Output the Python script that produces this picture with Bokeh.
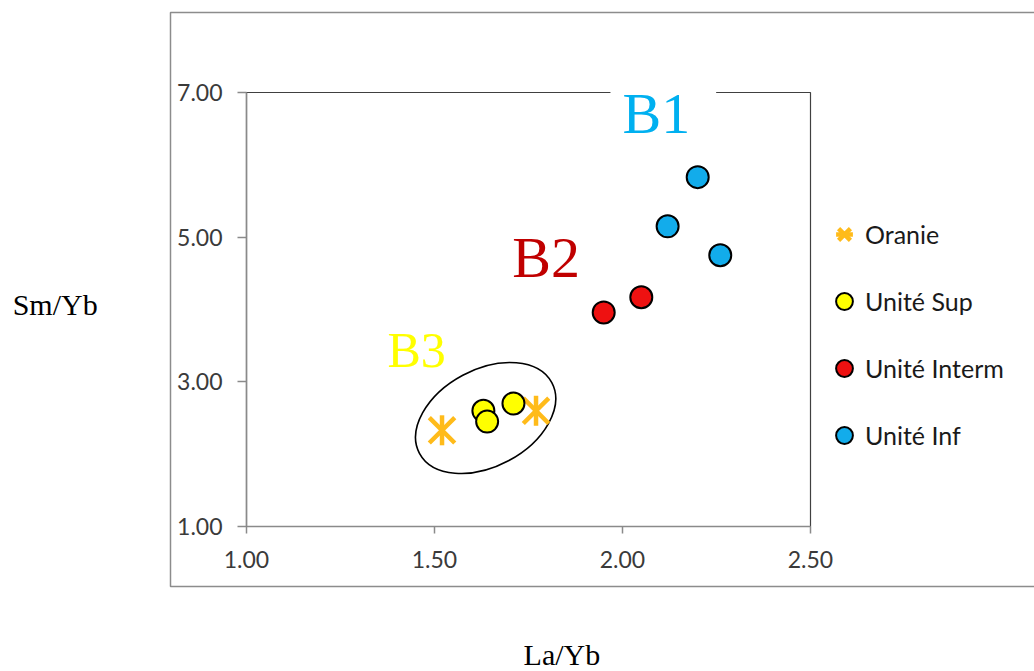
import math
from bokeh.plotting import figure
from bokeh.models import (Range1d, FixedTicker, NumeralTickFormatter, Legend, LegendItem, Label)
from bokeh.embed import file_html
from bokeh.resources import INLINE

# ---- data ----
oranie_x = [1.52, 1.77]
oranie_y = [2.33, 2.60]
sup_x = [1.63, 1.64, 1.71]
sup_y = [2.60, 2.45, 2.70]
interm_x = [1.95, 2.05]
interm_y = [3.96, 4.17]
inf_x = [2.12, 2.20, 2.26]
inf_y = [5.15, 5.83, 4.75]

x_ticks = [1.0, 1.5, 2.0, 2.5]
y_ticks = [1.0, 3.0, 5.0, 7.0]
series_names = ["Oranie", "Unité Sup", "Unité Interm", "Unité Inf"]
group_labels = ["B1", "B2", "B3"]
x_title = "La/Yb"
y_title = "Sm/Yb"

TICK_FONT = "Lato"
SERIF = "Liberation Serif"

# axis window 1.0..2.5 x 1.0..7.0, the whole canvas is the frame
W, H = 1034, 671
X0, X1, PX0, PX1 = 1.0, 2.5, 246, 810
Y0, Y1, PY0, PY1 = 1.0, 7.0, 526, 92
sx = (X1 - X0) / (PX1 - PX0)
sy = (Y1 - Y0) / (PY0 - PY1)

p = figure(width=W, height=H, output_backend="svg", toolbar_location=None,
           x_range=Range1d(X0 - PX0 * sx, X1 + (W - PX1) * sx),
           y_range=Range1d(Y0 - (H - PY0) * sy, Y1 + PY1 * sy),
           min_border=0)
p.background_fill_color = "white"
p.border_fill_color = "white"
p.grid.visible = False
p.outline_line_color = None

# outer chart-area border and plot-area border
p.quad(left=[X0 - 76 * sx], right=[X1 + 400 * sx], bottom=[Y0 - 60 * sy], top=[Y1 + 80 * sy],
       fill_color=None, line_color="#8c8c8c", line_width=1.5, level="underlay")
p.quad(left=[X0], right=[X1], bottom=[Y0], top=[Y1],
       fill_color=None, line_color="#404040", line_width=1.2, level="underlay")

for ax, ticks in ((p.xaxis, x_ticks), (p.yaxis, y_ticks)):
    ax.ticker = FixedTicker(ticks=ticks)
    ax.formatter = NumeralTickFormatter(format="0.00")
    ax.fixed_location = 1.0
    ax.axis_line_color = "#8a8a8a"
    ax.axis_line_width = 1.5
    ax.major_tick_line_color = "#8a8a8a"
    ax.major_tick_line_width = 1.5
    ax.major_tick_in = 0
    ax.minor_tick_line_color = None
    ax.major_label_text_font = TICK_FONT
    ax.major_label_text_font_size = "23px"
    ax.major_label_text_color = "#3a3a3a"
p.xaxis.bounds = (X0, X1)
p.yaxis.bounds = (Y0, Y1)
p.xaxis.major_tick_out = 7
p.yaxis.major_tick_out = 9
p.xaxis.major_label_standoff = 17
p.yaxis.major_label_standoff = 15

# ellipse around group B3
p.ellipse(x=1.636, y=2.50, width=150, height=97, width_units="screen", height_units="screen",
          angle=0.49, fill_color=None, line_color="black", line_width=1.6)

ORANGE = "#FFBB1A"
r_or1 = p.scatter(oranie_x, oranie_y, marker="x", size=36, line_color=ORANGE, line_width=4.5)
r_or2 = p.scatter(oranie_x, oranie_y, marker="dash", angle=math.pi / 2, size=30,
                  line_color=ORANGE, line_width=4.5)
r_sup = p.scatter(sup_x, sup_y, marker="circle", size=22, fill_color="#FFFF00",
                  line_color="black", line_width=2)
r_int = p.scatter(interm_x, interm_y, marker="circle", size=22, fill_color="#EE1111",
                  line_color="black", line_width=2)
r_inf = p.scatter(inf_x, inf_y, marker="circle", size=22, fill_color="#12ACEB",
                  line_color="black", line_width=2)

legend = Legend(items=[LegendItem(label=series_names[0], renderers=[r_or1, r_or2]),
                       LegendItem(label=series_names[1], renderers=[r_sup]),
                       LegendItem(label=series_names[2], renderers=[r_int]),
                       LegendItem(label=series_names[3], renderers=[r_inf])],
                location=(823, 215), orientation="vertical",
                glyph_width=42, glyph_height=42, label_height=42, spacing=25,
                label_standoff=0, padding=34, margin=0,
                border_line_color=None, background_fill_color="white", background_fill_alpha=1,
                label_text_font=TICK_FONT, label_text_font_size="25px",
                label_text_color="#1a1a1a")
p.add_layout(legend, "center")

# group labels
p.add_layout(Label(x=1.968, y=6.744, text=group_labels[0], text_font=SERIF, text_font_size="58px",
                   text_color="#00B0F0", text_baseline="middle", text_align="left",
                   background_fill_color="white",
                   padding=dict(left=12, right=26, top=12, bottom=8)))
p.add_layout(Label(x=1.707, y=4.712, text=group_labels[1], text_font=SERIF, text_font_size="58px",
                   text_color="#C00000", text_baseline="middle", text_align="left"))
p.add_layout(Label(x=1.375, y=3.44, text=group_labels[2], text_font=SERIF, text_font_size="50px",
                   text_color="#FFFF00", text_baseline="middle", text_align="left"))

# axis titles
p.add_layout(Label(x=0.378, y=4.069, text=y_title, text_font=SERIF, text_font_size="30px",
                   text_color="black", text_baseline="middle", text_align="left"))
p.add_layout(Label(x=1.737, y=-0.77, text=x_title, text_font=SERIF, text_font_size="30px",
                   text_color="black", text_baseline="middle", text_align="left"))

open("out.html", "w").write(file_html(p, INLINE))
